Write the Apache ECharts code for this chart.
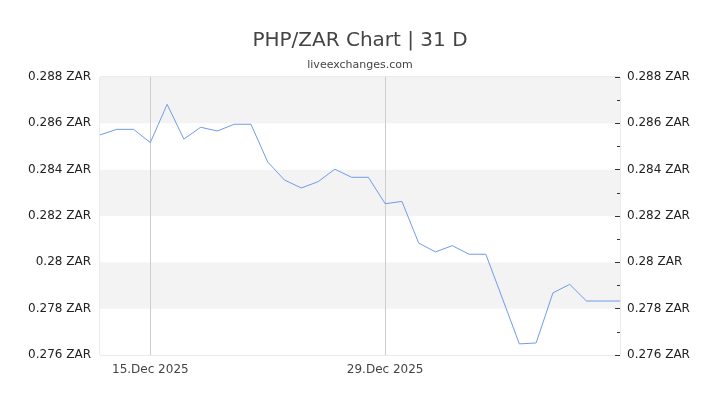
<!DOCTYPE html>
<html>
<head>
<meta charset="utf-8">
<title>PHP/ZAR Chart</title>
<script src="https://cdn.jsdelivr.net/npm/echarts@6/dist/echarts.min.js"></script>
<style>
    html, body { margin: 0; padding: 0; background: #fff; }
    #chart { width: 720px; height: 405px; }
</style>
</head>
<body>
<div id="chart"></div>
<script>
    // daily rates, 12 Dec 2025 - 12 Jan 2026
    var dates = [
        '12.Dec 2025', '13.Dec 2025', '14.Dec 2025', '15.Dec 2025', '16.Dec 2025', '17.Dec 2025',
        '18.Dec 2025', '19.Dec 2025', '20.Dec 2025', '21.Dec 2025', '22.Dec 2025', '23.Dec 2025',
        '24.Dec 2025', '25.Dec 2025', '26.Dec 2025', '27.Dec 2025', '28.Dec 2025', '29.Dec 2025',
        '30.Dec 2025', '31.Dec 2025', '01.Jan 2026', '02.Jan 2026', '03.Jan 2026', '04.Jan 2026',
        '05.Jan 2026', '06.Jan 2026', '07.Jan 2026', '08.Jan 2026', '09.Jan 2026', '10.Jan 2026',
        '11.Jan 2026', '12.Jan 2026'
    ]
    var rates = [
        0.28550, 0.28574, 0.28574, 0.28517, 0.28682, 0.28532, 0.28583, 0.28567,
        0.28596, 0.28596, 0.28433, 0.28355, 0.28321, 0.28348, 0.28402, 0.28367,
        0.28367, 0.28253, 0.28263, 0.28083, 0.28045, 0.28072, 0.28035, 0.28035,
        0.27842, 0.27648, 0.27652, 0.27868, 0.27905, 0.27833, 0.27833, 0.27833
    ]
    var yTicks = [0.276, 0.278, 0.28, 0.282, 0.284, 0.286, 0.288]
    var labelDays = ['15.Dec 2025', '29.Dec 2025'] // x labels + vertical lines

    var font = 'DejaVu Sans'
    var showDay = function (index, value) {
        return labelDays.indexOf(dates[index]) !== -1
    }
    var fmt = function (v) {
        return parseFloat(v.toFixed(3)) + ' ZAR'
    }

    var myChart = echarts.init(document.getElementById('chart'))
    var option = {
        animation: false,
        textStyle: { fontFamily: font },
        title: {
            text: 'PHP/ZAR Chart | 31 D',
            subtext: 'liveexchanges.com',
            left: 'center',
            top: 26,
            itemGap: 9,
            textStyle: { fontFamily: font, fontSize: 20, fontWeight: 'normal', color: '#444' },
            subtextStyle: { fontFamily: font, fontSize: 11, color: '#444' }
        },
        grid: {
            left: 100,
            right: 100,
            top: 77,
            bottom: 50,
            show: true,
            borderColor: '#d6d6d6',
            borderWidth: 1
        },
        xAxis: {
            type: 'category',
            data: dates,
            boundaryGap: false,
            axisLine: { show: false },
            axisTick: { show: false },
            axisLabel: {
                interval: showDay,
                margin: 9,
                fontSize: 12,
                color: '#444',
                fontFamily: font
            },
            splitLine: {
                show: true,
                interval: showDay,
                lineStyle: { color: '#cccccc', width: 1 }
            }
        },
        yAxis: [{
            type: 'value',
            min: yTicks[0],
            max: yTicks[yTicks.length - 1],
            interval: 0.002,
            position: 'left',
            axisLine: { show: false },
            axisTick: { show: false },
            splitLine: { show: false },
            splitArea: { show: true, areaStyle: { color: ['#ffffff', '#f3f3f3'] } },
            axisLabel: { formatter: fmt, fontSize: 12, color: '#222', margin: 9, fontFamily: font }
        }, {
            type: 'value',
            min: yTicks[0],
            max: yTicks[yTicks.length - 1],
            interval: 0.002,
            position: 'right',
            axisLine: { show: false },
            axisTick: { show: true, inside: true, length: 5, lineStyle: { color: '#333' } },
            minorTick: { show: true, splitNumber: 2, length: 3, lineStyle: { color: '#333' } },
            splitLine: { show: false },
            axisLabel: { formatter: fmt, fontSize: 12, color: '#222', margin: 7, fontFamily: font }
        }],
        series: [{
            type: 'line',
            data: rates,
            yAxisIndex: 0,
            symbol: 'none',
            lineStyle: { color: '#6f9ceb', width: 1 }
        }]
    }
    option && myChart.setOption(option)
</script>
</body>
</html>
